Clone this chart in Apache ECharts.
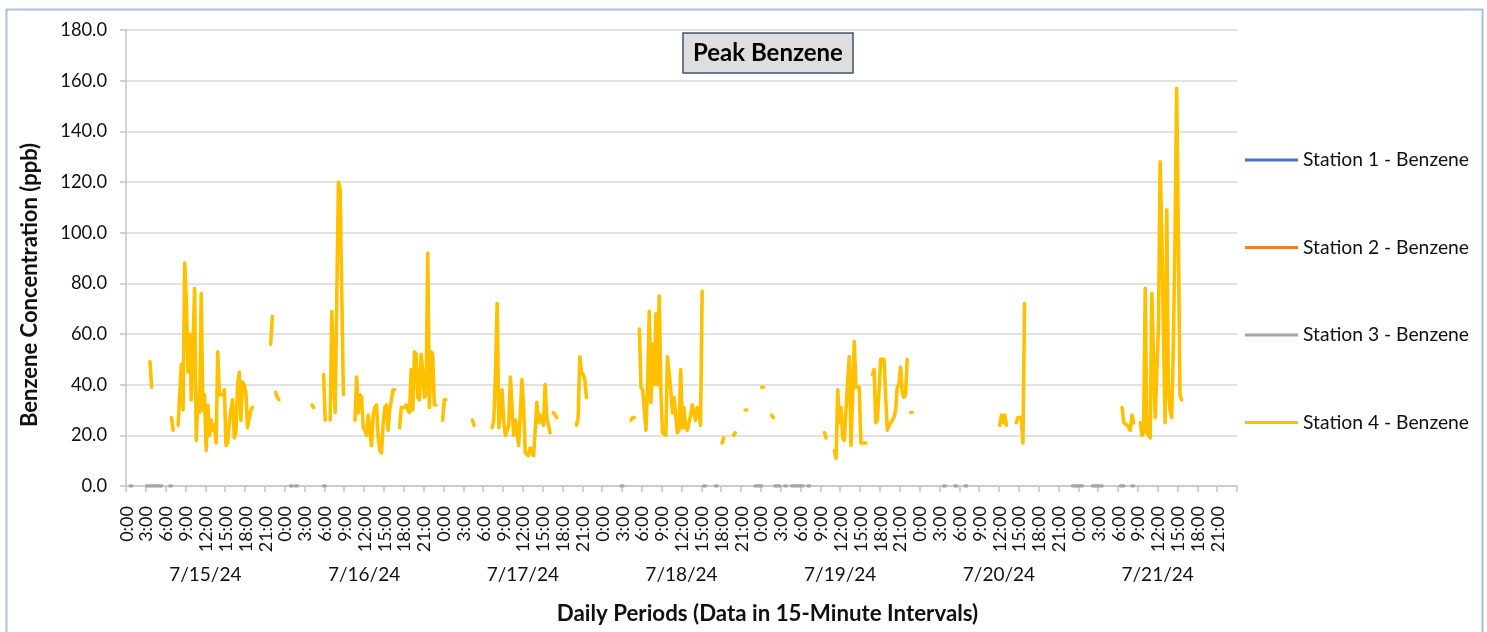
<!DOCTYPE html>
<html>
<head>
<meta charset="utf-8">
<script src="https://cdn.jsdelivr.net/npm/echarts@6/dist/echarts.min.js"></script>
<style>
  html, body { margin: 0; padding: 0; background: #ffffff; }
  #chart { width: 1487px; height: 632px; }
</style>
</head>
<body>
<div id="chart"></div>
<script>
// ---------------- data ----------------
const days = ['7/15/24', '7/16/24', '7/17/24', '7/18/24', '7/19/24', '7/20/24', '7/21/24'];
const hourLabels = ['0:00', '3:00', '6:00', '9:00', '12:00', '15:00', '18:00', '21:00'];
const slotsPerDay = 96;      // 15-minute intervals per day
const slotsPerLabel = 12;    // one hour label every 3 hours
const seriesNames = ['Station 1 - Benzene', 'Station 2 - Benzene', 'Station 3 - Benzene', 'Station 4 - Benzene'];

// Readings per day: { firstSlot: [consecutive 15-min values] }, gaps = no data
const station1ByDay = [{}, {}, {}, {}, {}, {}, {}];
const station2ByDay = [{}, {}, {}, {}, {}, {}, {}];

const station3_0715 = { 2: [0, 0], 12: [0, 0, 0, 0, 0, 0, 0, 0, 0, 0], 26: [0, 0] };
const station3_0716 = { 3: [0, 0], 6: [0, 0], 23: [0, 0] };
const station3_0717 = {};
const station3_0718 = { 11: [0, 0], 61: [0, 0], 68: [0, 0], 92: [0, 0, 0, 0] };
const station3_0719 = { 0: [0], 8: [0, 0, 0, 0], 14: [0, 0], 18: [0, 0, 0, 0, 0, 0, 0, 0], 28: [0, 0] };
const station3_0720 = { 14: [0, 0], 21: [0, 0], 27: [0, 0], 92: [0, 0, 0, 0] };
const station3_0721 = { 0: [0, 0, 0], 8: [0, 0, 0, 0, 0, 0, 0], 25: [0, 0, 0], 32: [0, 0] };

const station4_0715 = {
  14: [49, 39],
  27: [27, 22],
  31: [24, 24, 48, 30, 88, 73, 45, 60, 34, 55, 78, 18, 36, 29, 76, 30, 36, 14, 32, 20, 26, 22, 24, 17, 53,
       36, 36, 36, 38, 16, 17, 25, 30, 34, 19, 21, 40, 45, 26, 41, 40, 37, 23, 23, 30, 31],
  87: [56, 67],
  90: [37, 35, 34]
};
const station4_0716 = {
  16: [32, 31],
  23: [44, 26],
  27: [26, 69, 45, 29, 75, 120, 117, 76, 36],
  42: [26, 43, 29, 36, 35, 23, 22, 20, 28, 28, 16, 28, 31, 32, 20, 14, 13, 24, 31, 32, 22, 30, 30, 38, 38],
  69: [23, 31, 31, 31, 32, 30, 29, 46, 30, 53, 52, 35, 34, 52, 45, 35, 36, 92, 31, 53, 52, 32, 32],
  95: [26]
};
const station4_0717 = {
  0: [34, 34],
  17: [26, 24],
  29: [23, 26, 45, 72, 23, 23, 38, 25, 20, 22, 24, 43, 43, 20, 26, 26, 16, 16, 42, 31, 13, 13, 12, 15, 15,
       12, 22, 33, 25, 28, 28, 24, 40, 27, 24, 21],
  66: [29, 28, 27],
  80: [24, 27, 51, 45, 44, 42, 35]
};
const station4_0718 = {
  17: [26, 27, 27],
  22: [62, 39, 38, 30, 22, 40, 69, 33, 56, 40, 68, 40, 75, 38, 21, 21, 20, 51, 51, 38, 29, 35, 35, 21, 22,
       46, 23, 31, 23, 22, 25, 28, 32, 32, 26, 31, 30, 24, 77],
  72: [17, 19],
  79: [20, 21],
  86: [30, 30]
};
const station4_0719 = {
  0: [39, 39],
  6: [28, 27],
  38: [21, 19],
  44: [14, 11, 38, 25, 31, 19, 18, 18, 42, 51, 16, 35, 57, 39, 39, 39, 17, 17, 17, 17],
  67: [44, 46, 25, 26, 26, 50, 50, 50, 35, 22, 24, 25, 26, 27, 30, 39, 40, 47, 37, 35, 36, 50],
  90: [29, 29]
};
const station4_0720 = {
  48: [24, 28, 25, 28, 24],
  58: [25, 27, 27, 27, 17, 72]
};
const station4_0721 = {
  26: [31, 25, 25, 24, 23, 22, 28, 25],
  37: [25, 20, 21, 78, 21, 20, 19, 76, 76, 27, 27, 63, 128, 100, 61, 25, 109, 38, 30, 27, 55, 98, 157, 100, 36, 34]
};

const station3ByDay = [station3_0715, station3_0716, station3_0717, station3_0718, station3_0719, station3_0720, station3_0721];
const station4ByDay = [station4_0715, station4_0716, station4_0717, station4_0718, station4_0719, station4_0720, station4_0721];

// ---------------- build ----------------
function expand(byDay) {
  const out = new Array(days.length * slotsPerDay).fill(null);
  byDay.forEach((segs, d) => {
    Object.keys(segs).forEach(k => {
      segs[k].forEach((v, j) => { out[d * slotsPerDay + Number(k) + j] = v; });
    });
  });
  return out;
}
const categories = [];
days.forEach(day => {
  for (let s = 0; s < slotsPerDay; s++) {
    const h = Math.floor(s / 4), m = (s % 4) * 15;
    categories.push(day + ' ' + h + ':' + (m < 10 ? '0' + m : m));
  }
});
const seriesData = [station1ByDay, station2ByDay, station3ByDay, station4ByDay].map(expand);
const colors = ['#4472C4', '#ED7D31', '#A5A5A5', '#FFC000'];

const FONT = 'Lato';
const TXT = '#111111';
const legendCenters = [160.5, 248, 335.5, 423];

const chart = echarts.init(document.getElementById('chart'));
chart.setOption({
  animation: false,
  textStyle: { fontFamily: FONT },
  graphic: [{
    type: 'rect', left: 4, top: 7, silent: true,
    shape: { width: 1476, height: 700 },
    style: { fill: 'none', stroke: '#a8c1e3', lineWidth: 2 }
  }],
  title: {
    text: 'Peak Benzene',
    left: 683, top: 33,
    padding: [6, 10],
    backgroundColor: '#dedede',
    borderColor: '#44546a',
    borderWidth: 1.5,
    textStyle: { fontFamily: FONT, fontSize: 24, fontWeight: 'bold', color: '#000', lineHeight: 28 }
  },
  legend: seriesNames.map((n, i) => ({
    data: [n],
    left: 1245,
    top: legendCenters[i] - 10,
    padding: 0,
    icon: 'rect',
    itemWidth: 53,
    itemHeight: 3,
    selectedMode: false,
    textStyle: { fontFamily: FONT, fontSize: 19.3, color: TXT }
  })),
  grid: { left: 126, right: 250, top: 30, bottom: 146, containLabel: false },
  xAxis: [{
    type: 'category',
    data: categories,
    boundaryGap: true,
    axisLine: { show: true, lineStyle: { color: '#c4c4c4', width: 1.5 } },
    axisTick: { show: true, length: 6, interval: (i) => i % slotsPerLabel === 0, lineStyle: { color: '#c4c4c4', width: 1.5 } },
    axisLabel: {
      interval: (i) => i % slotsPerLabel === 0,
      formatter: (v, i) => hourLabels[(i % slotsPerDay) / slotsPerLabel],
      rotate: 90, margin: 20,
      fontFamily: FONT, fontSize: 18, color: TXT
    },
    splitLine: { show: false },
    name: 'Daily Periods (Data in 15-Minute Intervals)',
    nameLocation: 'middle',
    nameGap: 117,
    nameTextStyle: { fontFamily: FONT, fontSize: 22.3, fontWeight: 'bold', color: TXT, padding: [0, 0, 0, 172] }
  }, {
    type: 'category',
    data: days,
    position: 'bottom',
    offset: 71,
    boundaryGap: true,
    axisLine: { show: false },
    axisTick: { show: false },
    axisLabel: { margin: 8, fontFamily: FONT, fontSize: 19, color: TXT },
    splitLine: { show: false }
  }],
  yAxis: {
    type: 'value',
    min: 0, max: 180, interval: 20,
    axisLine: { show: true, lineStyle: { color: '#c4c4c4', width: 1.5 } },
    axisTick: { show: true, length: 6, lineStyle: { color: '#c4c4c4', width: 1.5 } },
    axisLabel: { formatter: (v) => v.toFixed(1), margin: 19, fontFamily: FONT, fontSize: 18.3, color: TXT },
    splitLine: { lineStyle: { color: '#d9d9d9', width: 1.5 } },
    name: 'Benzene Concentration (ppb)',
    nameLocation: 'middle',
    nameGap: 85,
    nameTextStyle: { fontFamily: FONT, fontSize: 22, fontWeight: 'bold', color: TXT, padding: [0, 54, 0, 0] }
  },
  series: seriesNames.map((n, i) => ({
    name: n,
    type: 'line',
    data: seriesData[i],
    xAxisIndex: 0,
    symbol: 'none',
    showSymbol: false,
    connectNulls: false,
    color: colors[i],
    lineStyle: { width: 3.6, color: colors[i], cap: 'round', join: 'round' },
    z: 2 + i
  }))
});
</script>
</body>
</html>
